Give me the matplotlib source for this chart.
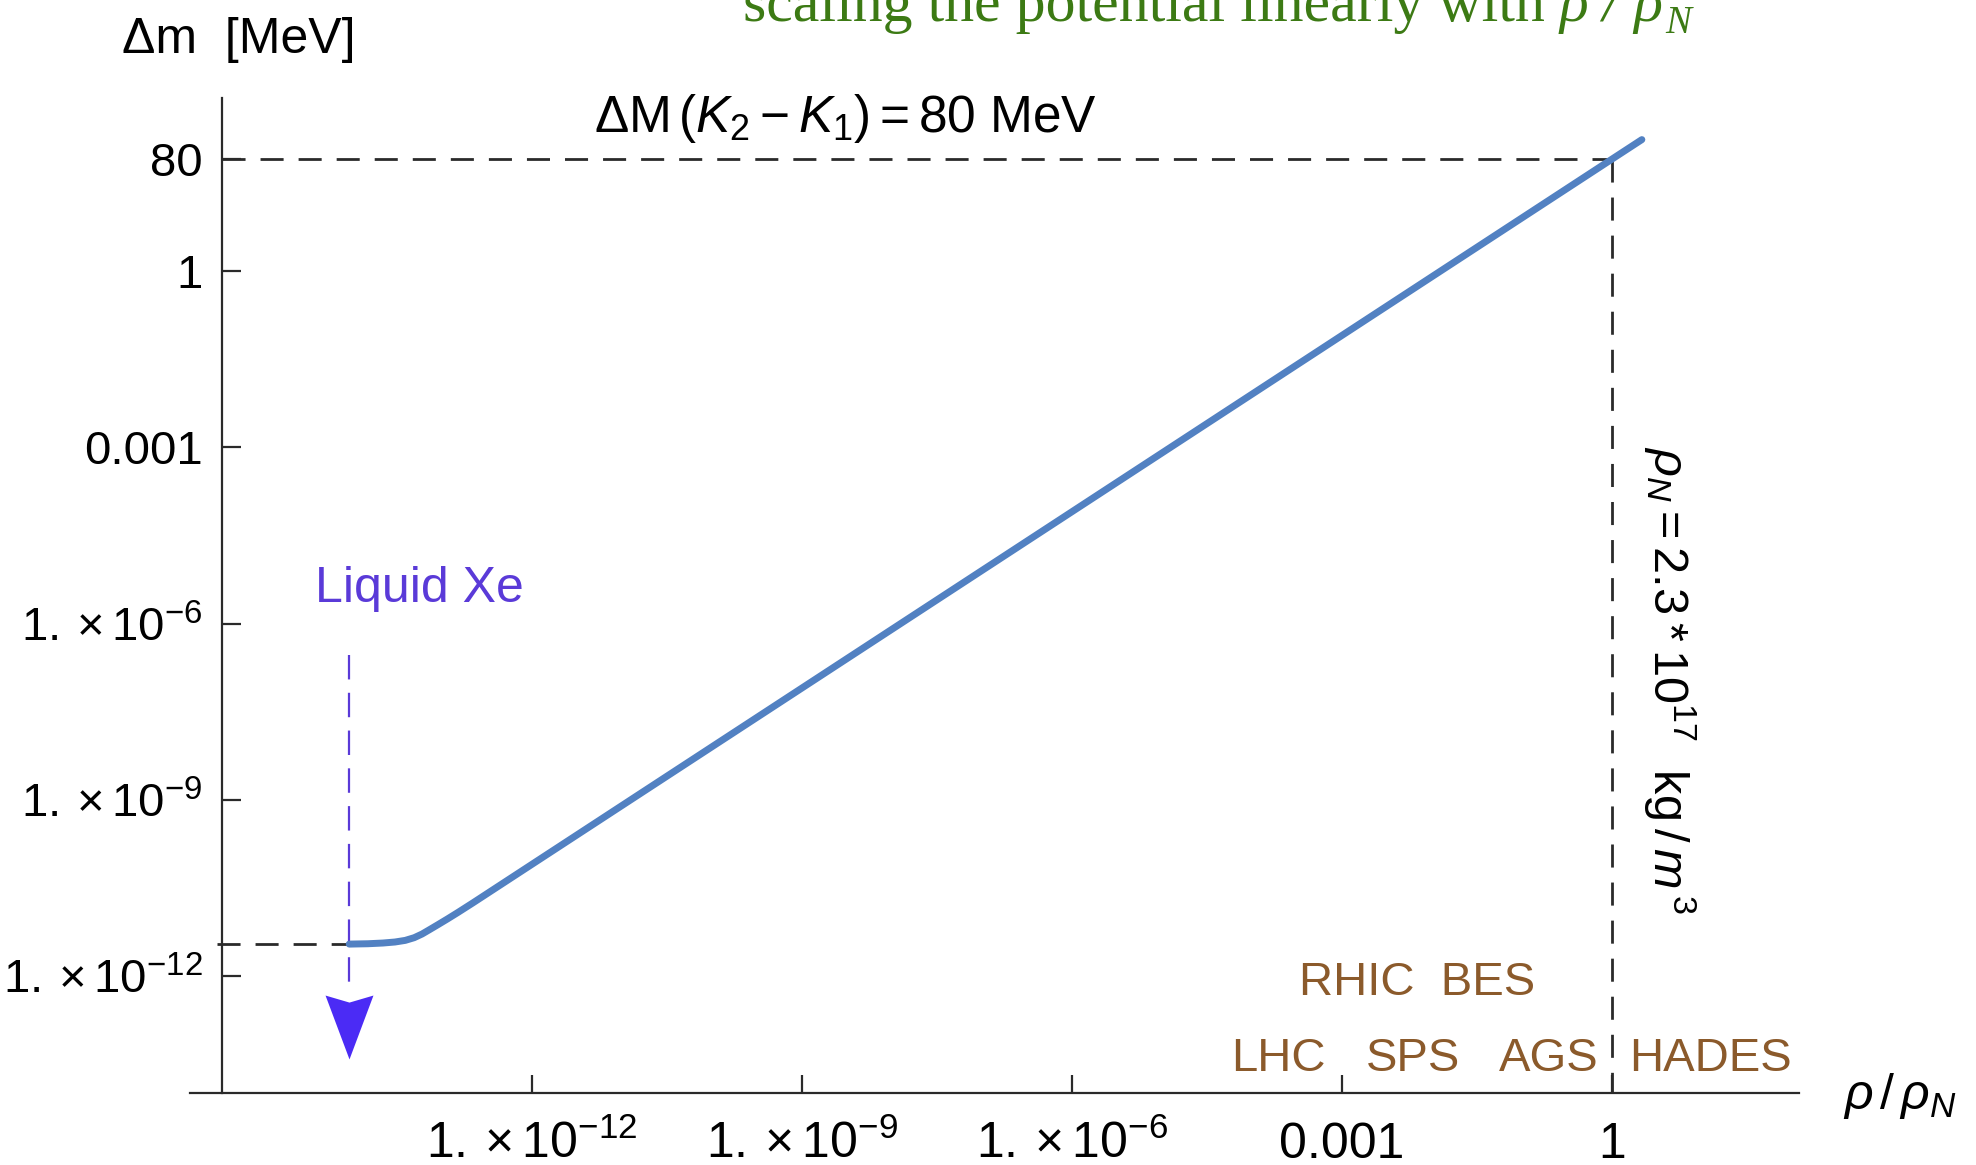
import numpy as np
import matplotlib
matplotlib.use("Agg")
import matplotlib.pyplot as plt
from matplotlib.path import Path
from matplotlib.ticker import FixedLocator, FixedFormatter, NullLocator

# curve (rho / rho_N , delta m in MeV)
rho = [9.3e-15, 1.5e-14, 2.2e-14, 3.0e-14, 3.9e-14, 4.9e-14, 6.0e-14, 7.3e-14,
       9.0e-14, 1.15e-13, 1.5e-13, 2.2e-13, 1e-12, 1e-9, 1e-6, 1e-3, 1.0, 2.15]
dm = [3.5e-12, 3.55e-12, 3.65e-12, 3.8e-12, 4.05e-12, 4.5e-12, 5.2e-12, 6.2e-12,
      7.5e-12, 9.4e-12, 1.21e-11, 1.76e-11, 8e-11, 8e-8, 8e-5, 0.08, 80.0, 172.0]

xticks = [1e-12, 1e-9, 1e-6, 1e-3, 1.0]
xlabels = [r"$1.\times10^{-12}$", r"$1.\times10^{-9}$", r"$1.\times10^{-6}$", "0.001", "1"]
yticks = [80.0, 1.0, 1e-3, 1e-6, 1e-9, 1e-12]
ylabels = ["80", "1", "0.001", r"$1.\times10^{-6}$", r"$1.\times10^{-9}$", r"$1.\times10^{-12}$"]

rho_xe = 9.3e-15       # liquid xenon density
dm_xe = 3.5e-12        # mass splitting there
dm_vac = 80.0          # K2 - K1 at nuclear density
rho_nuc = 1.0

exp_low = ["LHC", "SPS", "AGS", "HADES"]
exp_low_x = [0.6468, 0.7151, 0.7839, 0.8654]
exp_high = ["RHIC  BES"]
exp_high_x = [0.7171]

plt.rcParams["font.family"] = ["Liberation Sans", "DejaVu Sans"]
plt.rcParams["mathtext.fontset"] = "custom"
plt.rcParams["mathtext.rm"] = "Liberation Sans"
plt.rcParams["mathtext.it"] = "Liberation Sans:italic"
plt.rcParams["mathtext.bf"] = "Liberation Sans:bold"

axis_col = "#2a2a2a"
curve_col = "#5281c2"
brown = "#8b5a2b"
violet = "#5a3ad8"
green = "#3c7a14"

fig = plt.figure(figsize=(19.76, 11.65), dpi=100)
ax = fig.add_axes([0.0962, 0.0618, 0.8142, 0.8541])

ax.set_xscale("log")
ax.set_yscale("log")
ax.set_xlim(10 ** -15.8, 10 ** 2.078)
ax.set_ylim(10 ** -13.99, 10 ** 2.944)

# mathematica style axes: y axis crosses a bit right of the left end
ax.spines["left"].set_position(("data", 10 ** -15.444))
ax.spines["top"].set_visible(False)
ax.spines["right"].set_visible(False)
for s in ("left", "bottom"):
    ax.spines[s].set_linewidth(1.6)
    ax.spines[s].set_color(axis_col)

ax.xaxis.set_major_locator(FixedLocator(xticks))
ax.xaxis.set_major_formatter(FixedFormatter(xlabels))
ax.yaxis.set_major_locator(FixedLocator(yticks))
ax.yaxis.set_major_formatter(FixedFormatter(ylabels))
ax.xaxis.set_minor_locator(NullLocator())
ax.yaxis.set_minor_locator(NullLocator())
ax.tick_params(axis="x", direction="in", length=13, width=1.6, color=axis_col,
               labelsize=36, pad=47)
ax.tick_params(axis="y", direction="in", length=14, width=1.6, color=axis_col,
               labelsize=34, pad=14)
for lab in ax.get_xticklabels():
    lab.set_verticalalignment("baseline")

# guide lines
dash = (0, (8.3, 5.4))
ax.plot([10 ** -15.444, rho_nuc], [dm_vac, dm_vac], color=axis_col, lw=2.0,
        linestyle=dash, zorder=2)
ax.plot([rho_nuc, rho_nuc], [dm_vac, 10 ** -13.99], color=axis_col, lw=2.0,
        linestyle=dash, zorder=2, clip_on=False)
ax.plot([10 ** -15.5, rho_xe], [dm_xe, dm_xe], color=axis_col, lw=2.0,
        linestyle=dash, zorder=2, clip_on=False)

# liquid xenon marker: dashed line plus notched arrow head
ax.plot([rho_xe, rho_xe], [2.9e-7, 5.5e-13], color=violet, lw=1.6,
        linestyle=(0, (11, 6)), zorder=2)
head = Path([(-0.75, 1.0), (0.0, 0.78), (0.75, 1.0), (0.0, -1.0), (-0.75, 1.0)],
            [Path.MOVETO, Path.LINETO, Path.LINETO, Path.LINETO, Path.CLOSEPOLY])
ax.plot([rho_xe], [1.35e-13], marker=head, markersize=46, color="#4b2bf5",
        markeredgewidth=0, linestyle="none", zorder=3)

# the curve
ax.plot(rho, dm, color=curve_col, lw=5, solid_capstyle="round",
        solid_joinstyle="round", zorder=4)

# texts
fig.text(0.0617, 0.9545, "Δm  [MeV]", fontsize=36, va="baseline", ha="left")
fig.text(0.428, 0.8867, r"$\Delta\mathrm{M}\,(K_2 - K_1) = 80\ \mathrm{MeV}$",
         fontsize=37, ha="center", va="baseline")
fig.text(0.9615, 0.059, r"$\rho\,/\,\rho_N$", fontsize=36, ha="center", va="center")
fig.text(0.8451, 0.4163, r"$\rho_N = 2.3 * 10^{17}\ \ \mathrm{kg}\,/\,m^{\,3}$",
         fontsize=35, rotation=270, ha="center", va="center")
fig.text(0.212, 0.4833, "Liquid Xe", fontsize=36, color=violet, ha="center",
         va="baseline")
for name, xf in zip(exp_high, exp_high_x):
    fig.text(xf, 0.1459, name, fontsize=34, color=brown, ha="center", va="baseline")
for name, xf in zip(exp_low, exp_low_x):
    fig.text(xf, 0.0807, name, fontsize=34, color=brown, ha="center", va="baseline")

# green heading, cut by the top edge like the slide it came from
serif = ["Liberation Serif", "DejaVu Serif"]
t1 = fig.text(0.376, 0.982, "scaling the potential linearly with ", fontsize=43,
              family=serif, color=green, ha="left", va="baseline")
t2 = ax.annotate("ρ / ρ", xy=(1, 0), xycoords=t1, fontsize=43, family=serif,
                 style="italic", color=green, ha="left", va="bottom",
                 annotation_clip=False)
ax.annotate("N", xy=(1, 0), xycoords=t2, xytext=(1, -6), textcoords="offset points",
            fontsize=28, family=serif, style="italic", color=green, ha="left",
            va="bottom", annotation_clip=False)

fig.savefig("out.png", dpi=100)
